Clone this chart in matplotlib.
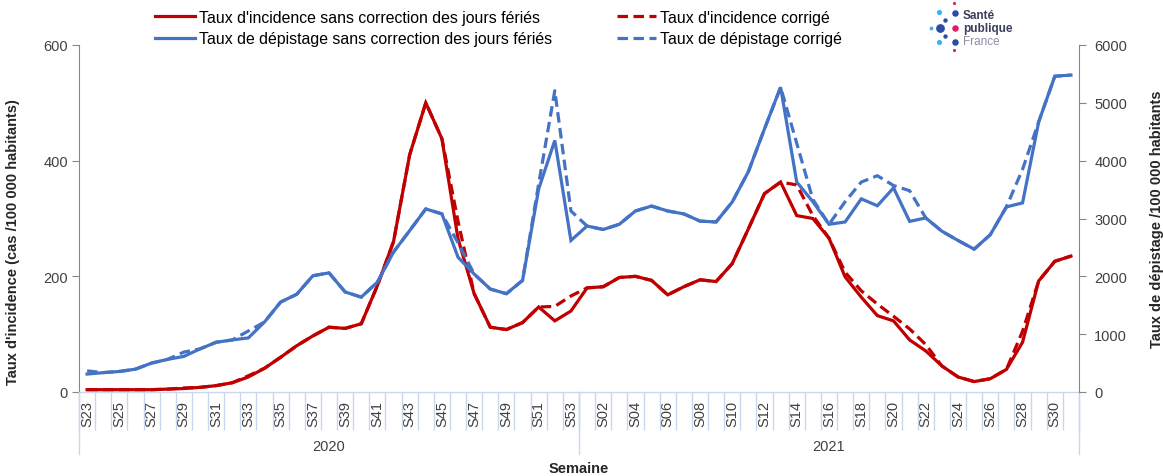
import numpy as np
import matplotlib
matplotlib.use("Agg")
import matplotlib.pyplot as plt
from matplotlib.lines import Line2D

plt.rcParams['font.family'] = ['Liberation Sans', 'DejaVu Sans']

# ---------------- data ----------------
weeks_2020 = [f"S{w:02d}" for w in range(23, 54)]
weeks_2021 = [f"S{w:02d}" for w in range(1, 32)]
weeks = weeks_2020 + weeks_2021
years = ["2020", "2021"]

# Taux d'incidence sans correction (left axis)
incidence = [4, 4, 4, 4, 4, 5, 6, 8, 11, 16,
             26, 41, 60, 80, 97, 112, 110, 118, 184, 260,
             410, 500, 438, 265, 170, 112, 108, 120, 147, 123,
             140,
             180, 182, 198, 200, 193, 168, 182, 194, 191, 222,
             282, 343, 363, 305, 300, 266, 199, 164, 132, 123,
             90, 71, 45, 26, 18, 23, 39, 86, 192, 226,
             235]
# Taux d'incidence corrigé
incidence_corr = [4, 4, 4, 4, 4, 5, 7, 8, 11, 16,
                  28, 41, 60, 80, 97, 112, 110, 118, 184, 260,
                  410, 500, 438, 295, 170, 112, 108, 120, 147, 148,
                  166,
                  180, 182, 198, 200, 193, 168, 182, 194, 191, 222,
                  282, 343, 363, 358, 305, 266, 207, 175, 152, 131,
                  109, 82, 45, 26, 18, 23, 39, 105, 192, 226,
                  235]
# Taux de dépistage sans correction (right axis)
screening = [310, 335, 355, 395, 500, 565, 615, 745, 860, 900,
             935, 1210, 1555, 1690, 2010, 2060, 1730, 1640, 1900, 2420,
             2790, 3165, 3080, 2330, 2040, 1780, 1700, 1930, 3510, 4350,
             2620,
             2870, 2810, 2900, 3130, 3215, 3130, 3080, 2955, 2940, 3285,
             3810, 4550, 5270, 3630, 3290, 2900, 2940, 3340, 3220, 3530,
             2950, 3010, 2780, 2620, 2470, 2720, 3200, 3270, 4670, 5460,
             5480]
# Taux de dépistage corrigé
screening_corr = [365, 335, 355, 395, 500, 565, 690, 745, 860, 900,
                  1055, 1210, 1555, 1690, 2010, 2060, 1730, 1640, 1900, 2420,
                  2790, 3165, 3080, 2580, 2040, 1780, 1700, 1930, 3600, 5210,
                  3130,
                  2870, 2810, 2900, 3130, 3215, 3130, 3080, 2955, 2940, 3285,
                  3810, 4550, 5270, 4300, 3330, 2900, 3290, 3630, 3740, 3570,
                  3480, 3010, 2780, 2620, 2470, 2720, 3200, 3850, 4670, 5460,
                  5480]

RED = "#C00000"
BLUE = "#4472C4"
LIGHT = "#C9D7EE"
GREY = "#868686"
DASH = (0, (3.3, 1.7))

W, H = 1163, 477
fig = plt.figure(figsize=(W / 100, H / 100), dpi=100)
ax = fig.add_axes([79 / W, 1 - 393 / H, 1000 / W, 347 / H])
ax2 = ax.twinx()

x = np.arange(len(weeks))
lw = 2.3
ax.plot(x, incidence_corr, color=RED, lw=lw, ls=DASH, zorder=2)
ax.plot(x, incidence, color=RED, lw=lw, zorder=3, solid_joinstyle='miter')
ax2.plot(x, screening_corr, color=BLUE, lw=lw, ls=DASH, zorder=2)
ax2.plot(x, screening, color=BLUE, lw=lw, zorder=3, solid_joinstyle='miter')

ax.set_xlim(-0.5, len(weeks) - 0.5)
ax.set_ylim(0, 600)
ax2.set_ylim(0, 6000)
ax.set_yticks([0, 200, 400, 600])
ax2.set_yticks(range(0, 6001, 1000))

for s in ["top", "right"]:
    ax.spines[s].set_visible(False)
for s in ["top", "left", "bottom"]:
    ax2.spines[s].set_visible(False)
ax.spines["left"].set_color(GREY)
ax2.spines["right"].set_color(GREY)
ax.spines["bottom"].set_color(LIGHT)
ax.spines["bottom"].set_linewidth(1.0)

ax.tick_params(axis="y", length=5, color=GREY, labelsize=10.5, labelcolor="#404040", pad=3)
ax2.tick_params(axis="y", length=5, color=GREY, labelsize=10.5, labelcolor="#404040", pad=6)

# category axis
ax.set_xticks(x)
ax.set_xticklabels([w if i % 2 == 0 else "" for i, w in enumerate(weeks)],
                   rotation=90, fontsize=10.5, color="#404040")
ax.set_xticks(np.arange(-0.5, len(weeks), 1), minor=True)
ax.tick_params(axis="x", which="major", length=0, pad=6)
ax.tick_params(axis="x", which="minor", length=27, color=LIGHT, width=1.0)

# year group separators and labels
n20 = len(weeks_2020)
trans = ax.get_xaxis_transform()
for b in [-0.5, n20 - 0.5, len(weeks) - 0.5]:
    ax.plot([b, b], [0, -0.178], transform=trans, color=LIGHT, lw=1.0, clip_on=False)
centers = [(n20 - 1) / 2, n20 + (len(weeks_2021) - 1) / 2]
for c, yr in zip(centers, years):
    ax.text(c, -0.157, yr, transform=trans, ha="center", va="center",
            fontsize=10.5, color="#404040")
ax.text((len(weeks) - 1) / 2, -0.22, "Semaine", transform=trans, ha="center",
        va="center", fontsize=10.5, fontweight="bold", color="#262626")

ax.set_ylabel("Taux d'incidence (cas /100 000 habitants)", fontsize=10.5,
              fontweight="bold", color="#262626")
ax.yaxis.set_label_coords(-0.059, 0.435)
ax2.set_ylabel("Taux de dépistage /100 000 habitants", fontsize=10.5,
               fontweight="bold", color="#262626", rotation=90)
ax2.yaxis.set_label_coords(1.071, 0.5)

# legend
leg_handles = [
    Line2D([], [], color=RED, lw=lw),
    Line2D([], [], color=BLUE, lw=lw),
    Line2D([], [], color=RED, lw=lw, ls=DASH),
    Line2D([], [], color=BLUE, lw=lw, ls=DASH),
]
leg_labels = [
    "Taux d'incidence sans correction des jours fériés",
    "Taux de dépistage sans correction des jours fériés",
    "Taux d'incidence corrigé",
    "Taux de dépistage corrigé",
]
fig.legend(leg_handles, leg_labels, ncol=2, loc="upper left",
           bbox_to_anchor=(155 / W, 1 - 11 / H), frameon=False, fontsize=11.4,
           handlelength=2.5, handletextpad=0.25, columnspacing=4.1,
           labelspacing=0.4, borderpad=0, borderaxespad=0)

# Santé publique France logo (decorative)
lax = fig.add_axes([0, 0, 1, 1], facecolor="none")
lax.set_xlim(0, W)
lax.set_ylim(H, 0)
lax.axis("off")
dots = [(954, 4, 5, "#E6186A"), (939, 13, 14, "#3DB4E8"), (955, 14, 22, "#2C4AA8"),
        (945, 21, 10, "#2C4AA8"), (931, 29, 8, "#3DB4E8"), (940, 29, 40, "#2C4AA8"),
        (955, 29, 22, "#E6186A"), (945, 37, 10, "#2C4AA8"), (939, 43, 14, "#3DB4E8"),
        (955, 43, 22, "#2C4AA8"), (954, 51, 5, "#E6186A")]
for dx, dy, sz, col in dots:
    lax.scatter([dx], [dy], s=sz, color=col, linewidths=0)
fig.text(963 / W, 1 - 16 / H, "Santé", fontsize=8.5, fontweight="bold", color="#3B3F5C", va="center")
fig.text(963 / W, 1 - 29 / H, "publique", fontsize=8.5, fontweight="bold", color="#3B3F5C", va="center")
fig.text(963 / W, 1 - 42 / H, "France", fontsize=8.5, color="#8C8FA3", va="center")

fig.savefig("out.png", dpi=100)
